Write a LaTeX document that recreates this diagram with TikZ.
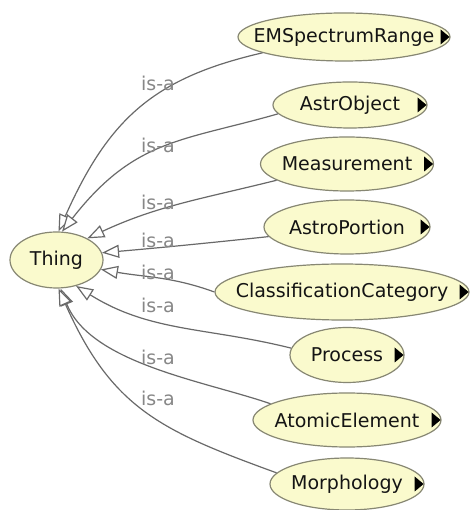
\documentclass[tikz,border=0pt]{standalone}
\usepackage{fontspec}
\setmainfont{DejaVu Sans}
\usetikzlibrary{shapes.geometric,arrows.meta}
\definecolor{clsfill}{RGB}{250,250,205}
\definecolor{clsline}{RGB}{135,135,115}
\definecolor{edgecol}{RGB}{105,105,105}
\definecolor{lblcol}{RGB}{135,135,135}
\definecolor{txtcol}{RGB}{20,20,20}
\begin{document}
\begin{tikzpicture}[x=1pt,y=1pt,
  cls/.style={ellipse, draw=clsline, fill=clsfill, line width=1.2pt, inner sep=0pt},
  clstext/.style={font=\fontsize{19}{22}\selectfont, text=txtcol, inner sep=0pt},
  isa/.style={draw=edgecol, line width=1.2pt, -{Triangle[length=17pt,width=13pt,fill=white]}},
  isalbl/.style={font=\fontsize{19}{21}\selectfont, text=lblcol, inner sep=0pt},
  moretri/.style={fill=black}]
\useasboundingbox (0,0) rectangle (475,510);
\fill[white] (0,0) rectangle (475,510);

% nodes
\node[cls, minimum width=93pt, minimum height=56pt, label={[clstext]center:Thing}] (thing) at (56.5,250) {};
\node[cls, minimum width=212pt, minimum height=48pt, label={[clstext]center:EMSpectrumRange}] (ems) at (344,473) {};
\node[cls, minimum width=154pt, minimum height=46pt, label={[clstext]center:AstrObject}] (astr) at (350,405) {};
\node[cls, minimum width=173pt, minimum height=54pt, label={[clstext]center:Measurement}] (meas) at (347,346) {};
\node[cls, minimum width=166pt, minimum height=54pt, label={[clstext]center:AstroPortion}] (portion) at (347,283) {};
\node[cls, minimum width=254pt, minimum height=56pt, label={[clstext]center:ClassificationCategory}] (cc) at (342,218) {};
\node[cls, minimum width=114pt, minimum height=55pt, label={[clstext]center:Process}] (proc) at (347,155) {};
\node[cls, minimum width=188pt, minimum height=54pt, label={[clstext]center:AtomicElement}] (atom) at (347,90) {};
\node[cls, minimum width=154pt, minimum height=52pt, label={[clstext]center:Morphology}] (morph) at (347,26) {};

% expand triangles
\foreach \n in {ems,astr,meas,portion,cc,proc,atom,morph}
  \fill[moretri] ([xshift=-1pt]\n.east) -- ++(-9,7.5) -- ++(0,-15) -- cycle;

% edges
\draw[isa] (ems.191) .. controls +(193:110) and +(66:125) .. (thing.86);
\draw[isa] (astr.187) .. controls +(196:100) and +(52:118) .. (thing.79);
\draw[isa] (meas.193) to[out=194,in=25] (thing.35);
\draw[isa] (portion.187) to[out=186,in=5] (thing.9);
\draw[isa] (cc.180) to[out=160,in=350] (thing.348);
\draw[isa] (proc.173) to[out=166,in=328] (thing.307);
\draw[isa] (atom.168) .. controls +(161:70) and +(292:81) .. (thing.278);
\draw[isa] (morph.171) .. controls +(160:124) and +(294:131) .. (thing.274);

% labels
\node[isalbl] (l1) at (158,427) {is-a};
\node[isalbl] (l2) at (158,365) {is-a};
\node[isalbl] (l3) at (158,308) {is-a};
\node[isalbl] (l4) at (158,270) {is-a};
\node[isalbl] (l5) at (158,238) {is-a};
\node[isalbl] (l6) at (158,205) {is-a};
\node[isalbl] (l7) at (158,153) {is-a};
\node[isalbl] (l8) at (158,112) {is-a};
\end{tikzpicture}
\end{document}
